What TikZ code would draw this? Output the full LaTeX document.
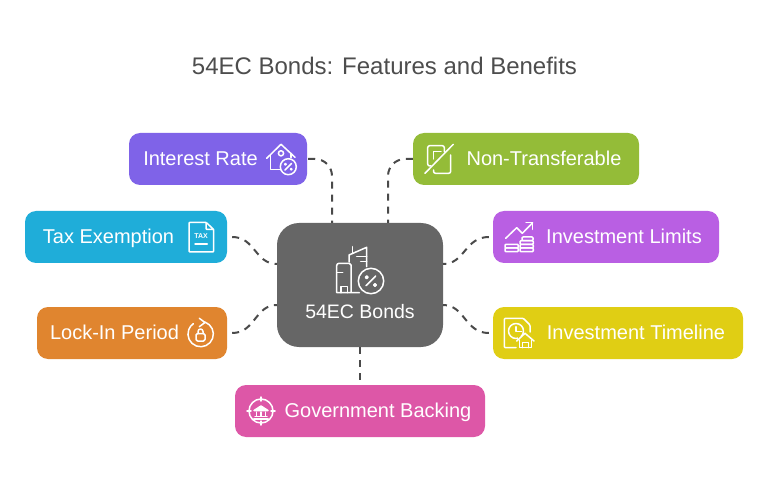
\documentclass[tikz,border=0pt]{standalone}
\usepackage{fontspec}
\setmainfont{Liberation Sans}
\usetikzlibrary{arrows}

\definecolor{titlegray}{HTML}{4D4D4D}
\definecolor{linkgray}{HTML}{4A4A4A}
\definecolor{centergray}{HTML}{666666}
\definecolor{ratepurple}{HTML}{7F63E8}
\definecolor{taxblue}{HTML}{1FADD9}
\definecolor{lockorange}{HTML}{E0852F}
\definecolor{transgreen}{HTML}{94BC38}
\definecolor{limitviolet}{HTML}{B95FE3}
\definecolor{timeyellow}{HTML}{E0CE14}
\definecolor{govpink}{HTML}{DD57A7}

\begin{document}
\begin{tikzpicture}[x=1pt,y=-1pt,
  box/.style={minimum height=52pt,inner sep=0pt,rounded corners=11pt},
  boxtext/.style={anchor=base,inner sep=0pt,text=white,font=\fontsize{20}{24}\selectfont},
  link/.style={draw=linkgray,line width=2pt,dash pattern=on 7pt off 6pt},
  icon/.style={draw=white,line width=1.5pt,line join=round,line cap=round}]
  \useasboundingbox (0,0) rectangle (768,486);

  \node[anchor=base,inner sep=0pt,text=titlegray,font=\fontsize{24}{28}\selectfont] (title) at (384.5,74.5) {54EC Bonds: Features and Benefits};

  \node[fill=centergray,minimum width=166pt,minimum height=124pt,inner sep=0pt,rounded corners=22pt] (bonds) at (360,285) {};
  \node[box,fill=ratepurple,minimum width=178pt] (rate) at (218,159) {};
  \node[box,fill=taxblue,minimum width=202pt] (tax) at (126,237) {};
  \node[box,fill=lockorange,minimum width=190pt] (lock) at (132,333) {};
  \node[box,fill=transgreen,minimum width=226pt] (trans) at (526,159) {};
  \node[box,fill=limitviolet,minimum width=226pt] (limits) at (606,237) {};
  \node[box,fill=timeyellow,minimum width=250pt] (timeline) at (618,333) {};
  \node[box,fill=govpink,minimum width=250pt] (gov) at (360,411) {};

  \node[boxtext,font=\fontsize{19.5}{24}\selectfont] (bondstext) at (360,318) {54EC Bonds};
  \node[boxtext] (ratetext) at (200.5,165.5) {Interest Rate};
  \node[boxtext] (taxtext) at (108.5,243.5) {Tax Exemption};
  \node[boxtext] (locktext) at (114.5,339.5) {Lock-In Period};
  \node[boxtext] (transtext) at (544,165.5) {Non-Transferable};
  \node[boxtext] (limitstext) at (624,243.5) {Investment Limits};
  \node[boxtext] (timelinetext) at (636,339.5) {Investment Timeline};
  \node[boxtext] (govtext) at (378,417.5) {Government Backing};

  \coordinate (bondsnw) at (332,223);
  \coordinate (bondsne) at (388,223);
  \coordinate (bondswn) at (277,264);
  \coordinate (bondsws) at (277,305);
  \coordinate (bondsen) at (443,264);
  \coordinate (bondses) at (443,305);

  \draw[link,rounded corners=17pt,shorten <=1pt] (rate.east) -| (bondsnw);
  \draw[link,rounded corners=17pt] (trans.west) -| (bondsne);
  \draw[link,shorten <=5pt] (tax.east) .. controls +(28,0) and +(-22,0) .. (bondswn);
  \draw[link,shorten <=5pt] (lock.east) .. controls +(28,0) and +(-22,0) .. (bondsws);
  \draw[link,shorten <=4pt] (limits.west) .. controls +(-28,0) and +(22,0) .. (bondsen);
  \draw[link,shorten <=4pt] (timeline.west) .. controls +(-28,0) and +(22,0) .. (bondses);
  \draw[link] (bonds.south) -- (gov.north);

  % center
  \draw[icon] (351,292.7) -- (351,265) arc (0:-90:1.7) -- (339,263.3) arc (-90:-180:2.3) -- (336.7,292.7) -- (359.3,292.7);
  \draw[icon] (337.5,272.3) -- (342.7,272.3);
  \draw[icon] (341,292.7) -- (341,286.7) -- (347.3,286.7) -- (347.3,292.7);
  \draw[icon] (349,262) -- (349,255) -- (366.7,247.3) -- (366.7,266.7);
  \draw[icon] (352.3,246.7) -- (352.3,253.3);
  \draw[icon] (356.7,256.7) -- (366.7,256.7);
  \draw[icon] (360.7,261.7) -- (366.7,261.7);
  \draw[icon] (371,281) circle (12.7);
  \draw[icon] (366,285.7) -- (375.7,276);
  \draw[icon] (366.7,277.3) circle (1.4);
  \draw[icon] (375,285) circle (1.4);

  % interest rate
  \draw[icon] (266.7,158.3) -- (281,144.3) -- (295,157.3);
  \draw[icon] (270.7,155) -- (270.7,169.3) -- (279.5,169.3);
  \draw[icon] (291,153.3) -- (291,157.5);
  \draw[icon] (281,153.3) circle (2.6);
  \draw[icon] (288.3,166.7) circle (8);
  \draw[icon] (285,170) -- (291.6,163.4);
  \draw[icon,line width=1pt] (285.4,164.2) circle (1);
  \draw[icon,line width=1pt] (291.2,169.2) circle (1);

  % tax exemption
  \draw[icon,rounded corners=1pt] (206,222.3) -- (189,222.3) -- (189,252) -- (213.7,252) -- (213.7,229.5) -- (206,222.3) -- (206,229.5) -- (213.7,229.5);
  \node[inner sep=0pt,text=white,font=\bfseries\fontsize{7}{8}\selectfont] (taxmark) at (201,235.7) {TAX};
  \draw[icon] (195,244) -- (207.3,244);

  % lock-in period
  \draw[icon] (205,322.1) arc (-70:235:12.7);
  \draw[icon] (199.3,318.3) -- (205,322.5) -- (199.3,326.7);
  \draw[icon,rounded corners=1.5pt] (196,333.5) rectangle (205,341);
  \draw[icon] (198,333.5) -- (198,331.5) arc (180:360:2.5) -- (203,333.5);

  % non-transferable
  \draw[icon,rounded corners=2pt] (431,166) -- (427.7,166) -- (427.7,145.7) -- (444.3,145.7) -- (444.3,152);
  \draw[icon,rounded corners=2pt] (450.7,155) -- (450.7,173.3) -- (433.5,173.3) -- (433.5,170);
  \draw[icon] (433.5,159) -- (433.5,151.7) -- (441,151.7);
  \draw[icon] (425,173.3) -- (453.3,144.3);

  % investment limits
  \draw[icon] (505.7,238.3) -- (516.7,227.7) -- (522.3,233.3) -- (532.7,222.7);
  \draw[icon] (526,222.7) -- (532.7,222.7) -- (532.7,229.3);
  \draw[icon,rounded corners=1pt] (505,244.3) rectangle (518.3,248);
  \draw[icon,rounded corners=1pt] (505,248) rectangle (518.3,251.7);
  \draw[icon,rounded corners=1pt] (522,237) rectangle (533,240.7);
  \draw[icon,rounded corners=1pt] (520,240.7) rectangle (533.3,244.4);
  \draw[icon,rounded corners=1pt] (520,244.4) rectangle (533.3,248);
  \draw[icon,rounded corners=1pt] (520,248) rectangle (533.3,251.7);

  % investment timeline
  \draw[icon,rounded corners=1pt] (516,347.7) -- (504.3,347.7) -- (504.3,318.3) -- (523.3,318.3) -- (530,325) -- (530,332);
  \draw[icon] (516,331) circle (7.5);
  \draw[icon] (516,326.7) -- (516,331.7) -- (521.7,331.7);
  \draw[fill=timeyellow,draw=none] (518,336) rectangle (534,349);
  \draw[icon] (516.7,341) -- (525,333.3) -- (534,341);
  \draw[icon] (519.3,340) -- (519.3,347.7) -- (531.7,347.7) -- (531.7,340);
  \draw[icon] (522.7,347.7) -- (522.7,342.3) -- (528.3,342.3) -- (528.3,347.7);

  % government backing
  \draw[icon] (261,411) circle (12);
  \draw[icon] (261,397) -- (261,401);
  \draw[icon] (261,421) -- (261,425);
  \draw[icon] (247,411) -- (251,411);
  \draw[icon] (271,411) -- (275,411);
  \draw[icon,fill=white] (254,410.5) -- (261,406) -- (268,410.5) -- cycle;
  \draw[icon] (255,416.7) -- (267,416.7);
  \draw[icon] (253.7,419) -- (268.3,419);
  \draw[icon] (256.5,412) -- (256.5,416);
  \draw[icon] (261,412) -- (261,416);
  \draw[icon] (265.5,412) -- (265.5,416);
\end{tikzpicture}
\end{document}
